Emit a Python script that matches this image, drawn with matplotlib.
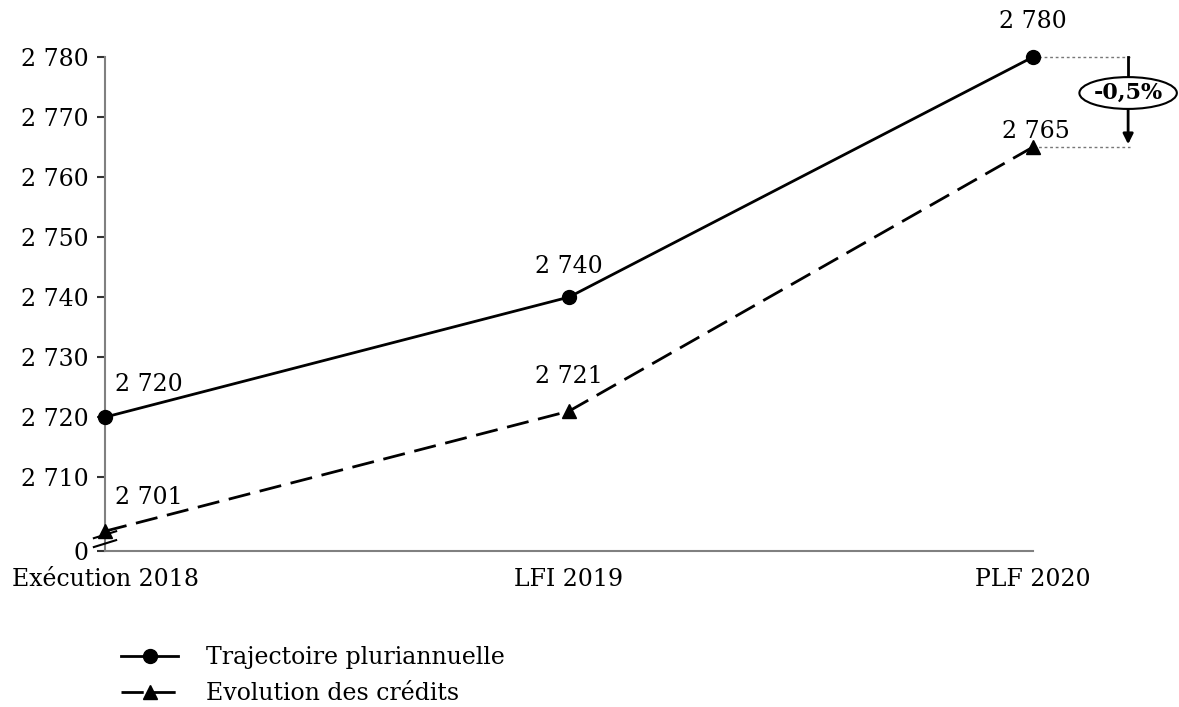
import matplotlib.pyplot as plt
from matplotlib.patches import Ellipse

plt.rcParams['font.family'] = ['DejaVu Serif']

# -------------------------------------------------
# Data
# -------------------------------------------------
categories = ["Exécution 2018", "LFI 2019", "PLF 2020"]
trajectoire = [2720, 2740, 2780]
evolution = [2701, 2721, 2765]
yticks = [2710, 2720, 2730, 2740, 2750, 2760, 2770, 2780]
ecart_label = "-0,5%"


def fmt(v):
    s = f"{v:,}".replace(",", " ")
    return s


x = list(range(len(categories)))
FS = 17

fig = plt.figure(figsize=(11.79, 7.07), dpi=100)
ax = fig.add_axes([105/1179, 1 - 551/707, (1033 - 105)/1179, (551 - 57)/707])

ax.plot(x, trajectoire, color='black', lw=2.0, marker='o', ms=10,
        label="Trajectoire pluriannuelle", clip_on=False, zorder=3)
ax.plot(x, evolution, color='black', lw=2.0, dashes=(8, 3.5), marker='^', ms=10,
        label="Evolution des crédits", clip_on=False, zorder=3)

ax.set_xlim(0, 2)
ax.set_ylim(2697.7, 2780)
ax.set_yticks(yticks + [2697.7])
ax.set_yticklabels([fmt(v) for v in yticks] + ["0"], fontsize=FS)
ax.set_xticks(x)
ax.set_xticklabels(categories, fontsize=FS)
ax.tick_params(axis='x', length=0, pad=12)
ax.tick_params(axis='y', length=6, width=1.5, color='#333333', pad=6)
for s in ['top', 'right']:
    ax.spines[s].set_visible(False)
for s in ['left', 'bottom']:
    ax.spines[s].set_color('#808080')
    ax.spines[s].set_linewidth(1.5)

# axis break marks
for dy in (0.0, 0.018):
    ax.plot([-0.012, 0.012], [0.008 + dy, 0.022 + dy], transform=ax.transAxes,
            color='black', lw=1.5, clip_on=False, zorder=4)

# value labels
offs_t = [(7, 15, 'left'), (0, 14, 'center'), (0, 17, 'center')]
offs_e = [(7, 16, 'left'), (0, 17, 'center'), (2, 3, 'center')]
for i in x:
    dx, dy, ha = offs_t[i]
    ax.annotate(fmt(trajectoire[i]), (i, trajectoire[i]), xytext=(dx, dy),
                textcoords='offset points', ha=ha, va='bottom', fontsize=FS,
                annotation_clip=False)
    dx, dy, ha = offs_e[i]
    ax.annotate(fmt(evolution[i]), (i, evolution[i]), xytext=(dx, dy),
                textcoords='offset points', ha=ha, va='bottom', fontsize=FS,
                annotation_clip=False)

# gap indicator on the right
xr = 2.205
ax.plot([2, 2.21], [trajectoire[-1]] * 2, color='#777777', lw=1, ls=(0, (2, 2)), clip_on=False)
ax.plot([2, 2.21], [evolution[-1]] * 2, color='#777777', lw=1, ls=(0, (2, 2)), clip_on=False)
ymid = 2774
ax.plot([xr, xr], [trajectoire[-1], ymid + 1.5], color='black', lw=2, clip_on=False)
ax.annotate("", xy=(xr, evolution[-1]), xytext=(xr, ymid - 1.5),
            arrowprops=dict(arrowstyle='-|>', color='black', lw=2, mutation_scale=15),
            annotation_clip=False)
ell = Ellipse((xr, ymid), 0.21, 5.3, facecolor='white', edgecolor='black', lw=1.5,
              clip_on=False, zorder=5)
ax.add_patch(ell)
ax.text(xr, ymid, ecart_label, ha='center', va='center', fontsize=FS - 1,
        fontweight='bold', zorder=6)

fig.legend(loc='upper left', bbox_to_anchor=(100/1179, 1 - 625/707), frameon=False,
           fontsize=FS, handlelength=2.4, labelspacing=0.55, handletextpad=1.2)

fig.savefig("out.png", dpi=100)
